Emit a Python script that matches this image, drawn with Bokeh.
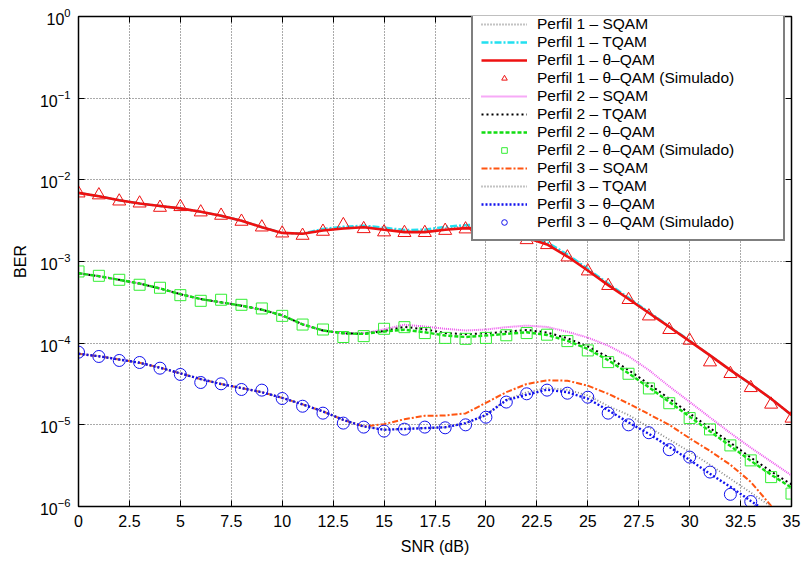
from bokeh.plotting import figure
from bokeh.models import Range1d, FixedTicker, LinearAxis, LogAxis, CustomJSTickFormatter
from bokeh.embed import file_html
from bokeh.resources import INLINE

# ---------------- data ----------------
snr = list(range(36))

p1_theta = [6.92e-3, 6.31e-3, 5.62e-3, 5.13e-3, 4.79e-3, 4.47e-3, 4.07e-3, 3.63e-3, 3.16e-3, 2.63e-3,
            2.24e-3, 2.19e-3, 2.40e-3, 2.54e-3, 2.63e-3, 2.45e-3, 2.29e-3, 2.29e-3, 2.45e-3, 2.56e-3,
            2.51e-3, 2.24e-3, 1.95e-3, 1.62e-3, 1.15e-3, 7.76e-4, 5.13e-4, 3.47e-4, 2.34e-4, 1.58e-4,
            1.06e-4, 7.08e-5, 4.68e-5, 3.16e-5, 2.09e-5, 1.32e-5]
p1_tqam = [6.92e-3, 6.31e-3, 5.62e-3, 5.13e-3, 4.79e-3, 4.47e-3, 4.07e-3, 3.63e-3, 3.16e-3, 2.63e-3,
           2.24e-3, 2.19e-3, 2.51e-3, 2.66e-3, 2.75e-3, 2.60e-3, 2.43e-3, 2.45e-3, 2.66e-3, 2.79e-3,
           2.82e-3, 2.51e-3, 2.09e-3, 1.72e-3, 1.22e-3, 8.13e-4, 5.37e-4, 3.59e-4, 2.40e-4, 1.60e-4,
           1.07e-4, 7.08e-5, 4.68e-5, 3.16e-5, 2.09e-5, 1.32e-5]
p1_sqam = [6.92e-3, 6.31e-3, 5.62e-3, 5.13e-3, 4.79e-3, 4.47e-3, 4.07e-3, 3.63e-3, 3.16e-3, 2.63e-3,
           2.24e-3, 2.19e-3, 2.45e-3, 2.60e-3, 2.69e-3, 2.52e-3, 2.36e-3, 2.37e-3, 2.55e-3, 2.68e-3,
           2.66e-3, 2.38e-3, 2.02e-3, 1.67e-3, 1.18e-3, 7.94e-4, 5.25e-4, 3.53e-4, 2.37e-4, 1.59e-4,
           1.06e-4, 7.08e-5, 4.68e-5, 3.16e-5, 2.09e-5, 1.32e-5]
p1_sim = [6.86e-3, 6.50e-3, 5.47e-3, 5.17e-3, 4.58e-3, 4.67e-3, 4.02e-3, 3.66e-3, 3.09e-3, 2.63e-3,
          2.22e-3, 2.08e-3, 2.33e-3, 2.81e-3, 2.51e-3, 2.29e-3, 2.25e-3, 2.25e-3, 2.39e-3, 2.49e-3,
          2.47e-3, 2.18e-3, 1.84e-3, 1.60e-3, 1.13e-3, 7.62e-4, 5.05e-4, 3.40e-4, 2.14e-4, 1.46e-4,
          1.08e-4, 5.86e-5, 4.22e-5, 2.84e-5, 1.78e-5, 1.20e-5]

p2_theta = [7.19e-4, 6.61e-4, 5.96e-4, 5.37e-4, 4.68e-4, 3.98e-4, 3.47e-4, 3.16e-4, 2.88e-4, 2.57e-4,
            2.19e-4, 1.70e-4, 1.43e-4, 1.32e-4, 1.30e-4, 1.39e-4, 1.46e-4, 1.36e-4, 1.24e-4, 1.19e-4,
            1.24e-4, 1.30e-4, 1.36e-4, 1.26e-4, 1.07e-4, 8.51e-5, 6.17e-5, 4.27e-5, 2.88e-5, 1.91e-5,
            1.26e-5, 8.32e-6, 5.50e-6, 3.63e-6, 2.45e-6, 1.70e-6]
p2_tqam = [7.19e-4, 6.61e-4, 5.96e-4, 5.37e-4, 4.68e-4, 3.98e-4, 3.47e-4, 3.16e-4, 2.88e-4, 2.57e-4,
           2.19e-4, 1.70e-4, 1.43e-4, 1.32e-4, 1.30e-4, 1.41e-4, 1.58e-4, 1.48e-4, 1.33e-4, 1.29e-4,
           1.32e-4, 1.38e-4, 1.45e-4, 1.35e-4, 1.15e-4, 9.12e-5, 6.76e-5, 4.68e-5, 3.16e-5, 2.09e-5,
           1.38e-5, 9.12e-6, 6.03e-6, 3.98e-6, 2.69e-6, 1.86e-6]
p2_sqam = [7.19e-4, 6.61e-4, 5.96e-4, 5.37e-4, 4.68e-4, 3.98e-4, 3.47e-4, 3.16e-4, 2.88e-4, 2.57e-4,
           2.19e-4, 1.70e-4, 1.43e-4, 1.32e-4, 1.32e-4, 1.48e-4, 1.68e-4, 1.60e-4, 1.50e-4, 1.43e-4,
           1.47e-4, 1.57e-4, 1.64e-4, 1.58e-4, 1.38e-4, 1.17e-4, 9.33e-5, 6.92e-5, 4.68e-5, 2.95e-5,
           1.91e-5, 1.23e-5, 7.94e-6, 5.25e-6, 3.55e-6, 2.40e-6]
p2_sim = [7.55e-4, 6.68e-4, 5.97e-4, 5.19e-4, 4.77e-4, 3.87e-4, 3.30e-4, 3.40e-4, 2.95e-4, 2.66e-4,
          2.16e-4, 1.69e-4, 1.47e-4, 1.19e-4, 1.22e-4, 1.50e-4, 1.57e-4, 1.33e-4, 1.16e-4, 1.13e-4,
          1.16e-4, 1.25e-4, 1.33e-4, 1.27e-4, 1.06e-4, 8.15e-5, 5.86e-5, 4.22e-5, 2.79e-5, 1.84e-5,
          1.21e-5, 8.79e-6, 5.60e-6, 3.67e-6, 2.29e-6, 1.44e-6]

p3_theta = [7.41e-5, 6.92e-5, 6.31e-5, 5.75e-5, 5.01e-5, 4.27e-5, 3.63e-5, 3.16e-5, 2.82e-5, 2.51e-5,
            2.14e-5, 1.78e-5, 1.46e-5, 1.15e-5, 9.55e-6, 8.71e-6, 8.91e-6, 9.12e-6, 9.33e-6, 1.05e-5,
            1.32e-5, 2.00e-5, 2.34e-5, 2.69e-5, 2.51e-5, 2.09e-5, 1.51e-5, 1.07e-5, 7.76e-6, 5.37e-6,
            3.72e-6, 2.51e-6, 1.74e-6, 1.17e-6, 7.94e-7, 5.37e-7]
p3_tqam = [7.41e-5, 6.92e-5, 6.31e-5, 5.75e-5, 5.01e-5, 4.27e-5, 3.63e-5, 3.16e-5, 2.82e-5, 2.51e-5,
           2.14e-5, 1.78e-5, 1.46e-5, 1.15e-5, 9.55e-6, 8.71e-6, 8.91e-6, 9.12e-6, 9.33e-6, 1.05e-5,
           1.32e-5, 2.04e-5, 2.51e-5, 2.82e-5, 2.69e-5, 2.29e-5, 1.70e-5, 1.32e-5, 9.33e-6, 6.61e-6,
           4.68e-6, 3.24e-6, 2.19e-6, 1.48e-6, 1.00e-6, 6.76e-7]
p3_sqam = [7.41e-5, 6.92e-5, 6.31e-5, 5.75e-5, 5.01e-5, 4.27e-5, 3.63e-5, 3.16e-5, 2.82e-5, 2.51e-5,
           2.14e-5, 1.78e-5, 1.46e-5, 1.15e-5, 9.55e-6, 1.02e-5, 1.17e-5, 1.29e-5, 1.30e-5, 1.38e-5,
           1.86e-5, 2.51e-5, 3.16e-5, 3.51e-5, 3.47e-5, 3.02e-5, 2.40e-5, 1.82e-5, 1.35e-5, 1.00e-5,
           6.84e-6, 4.79e-6, 3.24e-6, 2.00e-6, 1.02e-6, 5.62e-7]
snr_p3_sim = list(range(34))
p3_sim = [7.76e-5, 6.87e-5, 6.14e-5, 5.80e-5, 4.94e-5, 4.14e-5, 3.30e-5, 3.18e-5, 2.71e-5, 2.66e-5,
          2.10e-5, 1.69e-5, 1.39e-5, 1.05e-5, 9.38e-6, 8.38e-6, 8.85e-6, 9.38e-6, 9.20e-6, 1.00e-5,
          1.24e-5, 1.90e-5, 2.40e-5, 2.66e-5, 2.44e-5, 2.18e-5, 1.39e-5, 1.00e-5, 8.00e-6, 4.96e-6,
          4.03e-6, 2.64e-6, 1.41e-6, 1.15e-6]

x_ticks = [0, 2.5, 5, 7.5, 10, 12.5, 15, 17.5, 20, 22.5, 25, 27.5, 30, 32.5, 35]
x_labels = ["0", "2.5", "5", "7.5", "10", "12.5", "15", "17.5", "20", "22.5", "25", "27.5", "30", "32.5", "35"]
y_ticks = [1e-6, 1e-5, 1e-4, 1e-3, 1e-2, 1e-1, 1]

FONT = "Liberation Sans"

p = figure(width=803, height=563, x_range=Range1d(0, 35), y_range=Range1d(1e-6, 1),
           y_axis_type="log", output_backend="svg", toolbar_location=None,
           min_border_left=78, min_border_right=12, min_border_top=16, min_border_bottom=57)
p.background_fill_color = "white"
p.border_fill_color = "white"
p.outline_line_color = "black"
p.outline_line_width = 1.5

# axes
for ax in p.xaxis:
    ax.ticker = FixedTicker(ticks=x_ticks)
    ax.major_label_overrides = {t: l for t, l in zip(x_ticks, x_labels)}
    ax.axis_label = "SNR (dB)"
for ax in p.yaxis:
    ax.ticker = FixedTicker(ticks=y_ticks)
    ax.axis_label = "BER"
for ax in p.xaxis + p.yaxis:
    ax.axis_label_text_font = FONT
    ax.axis_label_text_font_size = "16px"
    ax.axis_label_text_font_style = "normal"
    ax.axis_label_text_color = "black"
    ax.axis_label_standoff = 8
    ax.major_label_text_font = FONT
    ax.major_label_text_font_size = "16px"
    ax.major_label_text_color = "black"
    ax.major_tick_in = 6
    ax.major_tick_out = 0
    ax.minor_tick_line_color = None
    ax.axis_line_color = "black"
    ax.major_tick_line_color = "black"
    ax.major_label_standoff = 8

blank = CustomJSTickFormatter(code="return '';")
top_ax = LinearAxis(ticker=FixedTicker(ticks=x_ticks), formatter=blank,
                    major_label_text_color=None, major_label_text_font_size="6px",
                    major_tick_in=6, major_tick_out=0, minor_tick_line_color=None,
                    major_label_standoff=0, axis_line_color="black")
p.add_layout(top_ax, "above")
right_ax = LogAxis(ticker=FixedTicker(ticks=y_ticks), formatter=CustomJSTickFormatter(code="return '';"),
                   major_label_text_color=None, major_label_text_font_size="6px",
                   major_tick_in=6, major_tick_out=0, minor_tick_line_color=None,
                   major_label_standoff=0, axis_line_color="black")
p.add_layout(right_ax, "right")

# grid
for g in [p.xgrid[0], p.ygrid[0]]:
    g.grid_line_color = "#555555"
    g.grid_line_dash = "1 2"
    g.grid_line_width = 1

# series (legend order)
p.line(snr, p1_sqam, line_color="#888888", line_width=1.8, line_dash="1 2", legend_label="Perfil 1 – SQAM")
p.line(snr, p1_tqam, line_color="#22e0f0", line_width=2.4, line_dash="7 2 2 2", legend_label="Perfil 1 – TQAM")
p.line(snr, p1_theta, line_color="#ee1111", line_width=2.6, legend_label="Perfil 1 – θ–QAM")
p.scatter(snr, p1_sim, marker="triangle", size=13, fill_color=None, line_color="#ee1111", line_width=1,
          legend_label="Perfil 1 – θ–QAM (Simulado)")
p.line(snr, p2_sqam, line_color="#ee55ee", line_width=2.0, line_dash="1 1", legend_label="Perfil 2 – SQAM")
p.line(snr, p2_tqam, line_color="black", line_width=2.0, line_dash="2 3", legend_label="Perfil 2 – TQAM")
p.line(snr, p2_theta, line_color="#11dd11", line_width=2.4, line_dash="4 2", legend_label="Perfil 2 – θ–QAM")
p.scatter(snr, p2_sim, marker="square", size=11, fill_color=None, line_color="#33ee33", line_width=1,
          legend_label="Perfil 2 – θ–QAM (Simulado)")
p.line(snr, p3_sqam, line_color="#ff5511", line_width=2.0, line_dash="6 2 2 2", legend_label="Perfil 3 – SQAM")
p.line(snr, p3_tqam, line_color="#888888", line_width=1.8, line_dash="1 2", legend_label="Perfil 3 – TQAM")
p.line(snr, p3_theta, line_color="#1111ee", line_width=2.4, line_dash="2 2", legend_label="Perfil 3 – θ–QAM")
p.scatter(snr_p3_sim, p3_sim, marker="circle", size=12, fill_color=None, line_color="#1111ee", line_width=1,
          legend_label="Perfil 3 – θ–QAM (Simulado)")

lg = p.legend[0]
lg.location = (393, 265)
lg.border_line_color = "black"
lg.border_line_width = 2.5
lg.background_fill_color = "white"
lg.background_fill_alpha = 1
lg.label_text_font = FONT
lg.label_text_font_size = "15.5px"
lg.label_text_color = "black"
lg.label_height = 14
lg.label_width = 238
lg.glyph_height = 14
lg.glyph_width = 46
lg.label_standoff = 10
lg.spacing = 0
lg.padding = 8
lg.margin = 0

open("out.html", "w").write(file_html(p, INLINE))
